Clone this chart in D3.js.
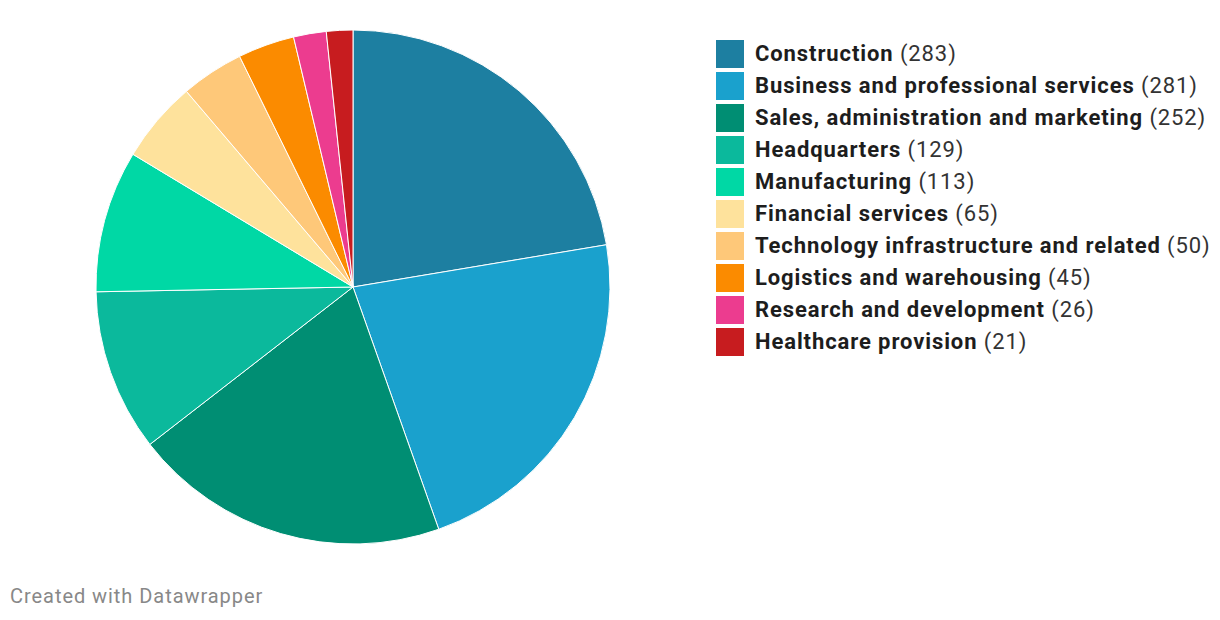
<!DOCTYPE html>
<html><head><meta charset="utf-8">
<script src="https://cdn.jsdelivr.net/npm/d3@7"></script>
<style>body{margin:0;background:#fff;font-family:Roboto,sans-serif;}</style>
</head><body>
<svg id="c" width="1220" height="620"></svg>
<script>
const categories = ["Construction","Business and professional services","Sales, administration and marketing","Headquarters","Manufacturing","Financial services","Technology infrastructure and related","Logistics and warehousing","Research and development","Healthcare provision"];
const values = [283,281,252,129,113,65,50,45,26,21];
const colors = ["#1d7fa1","#1aa1cd","#008e73","#0bb99c","#00d8a5","#fee29c","#fec879","#fb8b00","#ec3c8f","#c71c1f"];

const svg = d3.select("#c");
const data = categories.map((c,i)=>({name:c,value:values[i],color:colors[i]}));
const pie = d3.pie().value(d=>d.value).sort(null);
const arc = d3.arc().innerRadius(0).outerRadius(257);
const g = svg.append("g").attr("transform","translate(353,287)");
g.selectAll("path").data(pie(data)).join("path")
  .attr("d",arc).attr("fill",d=>d.data.color)
  .attr("stroke","#fff").attr("stroke-width",1);

const y = d3.scaleBand().domain(categories).range([38,358]).paddingInner(0);
const lg = svg.append("g");
const row = lg.selectAll("g").data(data).join("g")
  .attr("transform",d=>`translate(716,${y(d.name)})`);
row.append("rect").attr("width",28).attr("height",28).attr("y",2).attr("fill",d=>d.color);
const t = row.append("text").attr("x",39).attr("y",23).attr("font-size",22)
  .attr("letter-spacing","0.9px").attr("fill","#1d1d1d");
t.append("tspan").attr("font-weight","bold").text(d=>d.name);
t.append("tspan").attr("font-weight","normal").attr("fill","#333").text(d=>" ("+d.value+")");

svg.append("text").attr("x",10).attr("y",603).attr("font-size",20)
  .attr("letter-spacing","0.95px").attr("fill","#888").text("Created with Datawrapper");
</script>
</body></html>
